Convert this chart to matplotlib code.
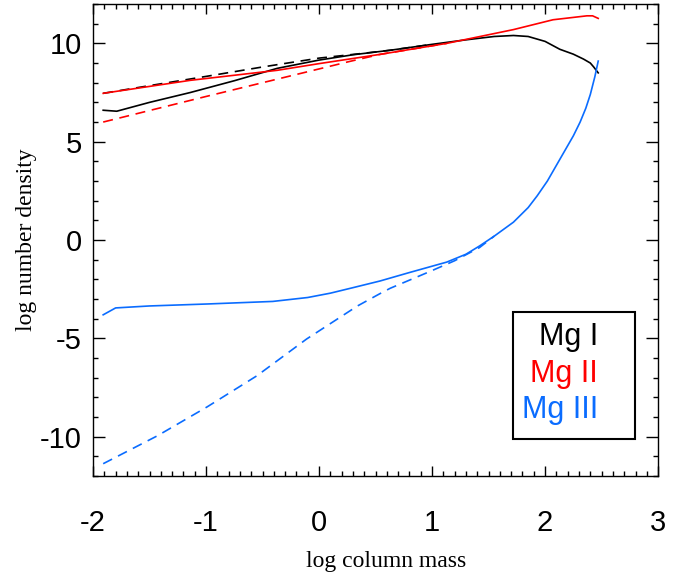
import matplotlib
matplotlib.use("Agg")
import matplotlib.pyplot as plt
from matplotlib.ticker import MultipleLocator
from matplotlib.patches import Rectangle

plt.rcParams['axes.unicode_minus'] = False

# Mg I (solid = non-LTE, dashed = LTE)
mg1_x = [-1.91, -1.79, -1.5, -1.14, -0.75, -0.37, 0.0, 0.3, 0.63, 1.0, 1.3, 1.55,
         1.72, 1.85, 2.0, 2.13, 2.25, 2.34, 2.40, 2.43, 2.47]
mg1_y = [6.6, 6.55, 7.0, 7.5, 8.1, 8.73, 9.15, 9.42, 9.65, 9.95, 10.18, 10.35,
         10.4, 10.35, 10.1, 9.7, 9.45, 9.2, 9.0, 8.8, 8.5]
mg1_lte_x = [-1.91, -1.5, -1.0, -0.5, 0.0, 0.4, 0.63, 1.0]
mg1_lte_y = [7.46, 7.85, 8.32, 8.8, 9.25, 9.5, 9.65, 9.95]

# Mg II
mg2_x = [-1.91, -1.14, -0.37, 0.0, 0.54, 1.13, 1.72, 2.07, 2.37, 2.42, 2.47]
mg2_y = [7.46, 8.12, 8.63, 8.97, 9.44, 10.0, 10.7, 11.2, 11.4, 11.4, 11.27]
mg2_lte_x = [-1.91, -1.0, 0.0, 0.27, 0.54, 1.13]
mg2_lte_y = [6.0, 7.3, 8.7, 9.08, 9.44, 10.0]

# Mg III
mg3_x = [-1.91, -1.80, -1.5, -0.99, -0.41, -0.1, 0.1, 0.3, 0.54, 0.8, 1.13, 1.3, 1.42,
         1.55, 1.72, 1.85, 1.93, 2.02, 2.10, 2.16, 2.25, 2.31, 2.36, 2.40, 2.44, 2.47]
mg3_y = [-3.8, -3.45, -3.35, -3.25, -3.12, -2.92, -2.7, -2.42, -2.08, -1.65, -1.12,
         -0.72, -0.3, 0.2, 0.91, 1.65, 2.25, 3.0, 3.8, 4.4, 5.3, 6.0, 6.7, 7.4, 8.3, 9.1]
mg3_lte_x = [-1.91, -1.43, -0.99, -0.55, -0.11, 0.34, 0.54, 0.63, 0.98, 1.2, 1.42, 1.55]
mg3_lte_y = [-11.37, -9.95, -8.48, -6.9, -5.03, -3.35, -2.72, -2.45, -1.6, -1.05, -0.38, 0.2]

labels = ['Mg I', 'Mg II', 'Mg III']
colors = ['black', '#ff0000', '#0a6cff']

fig = plt.figure(figsize=(6.9, 5.75), dpi=100)
ax = fig.add_axes([0.1348, 0.172, 0.819, 0.821])

lw = 1.2
dash = (0, (6, 4))
ax.plot(mg1_lte_x, mg1_lte_y, color=colors[0], lw=lw, linestyle=dash)
ax.plot(mg2_lte_x, mg2_lte_y, color=colors[1], lw=lw, linestyle=dash)
ax.plot(mg3_lte_x, mg3_lte_y, color=colors[2], lw=lw, linestyle=dash)
ax.plot(mg1_x, mg1_y, color=colors[0], lw=lw)
ax.plot(mg2_x, mg2_y, color=colors[1], lw=lw)
ax.plot(mg3_x, mg3_y, color=colors[2], lw=lw)

ax.set_xlim(-2, 3)
ax.set_ylim(-12, 12)
ax.xaxis.set_major_locator(MultipleLocator(1))
ax.xaxis.set_minor_locator(MultipleLocator(0.1))
ax.yaxis.set_major_locator(MultipleLocator(5))
ax.yaxis.set_minor_locator(MultipleLocator(1))
ax.tick_params(which='both', direction='in', top=True, right=True, width=1)
ax.tick_params(axis='x', which='major', length=7.2, pad=24)
ax.tick_params(axis='x', which='minor', length=3.6)
ax.tick_params(axis='y', which='major', length=8.6, pad=8)
ax.tick_params(axis='y', which='minor', length=3.6)
for lab in ax.get_xticklabels() + ax.get_yticklabels():
    lab.set_family('Liberation Sans')
    lab.set_fontsize(21)
for sp in ax.spines.values():
    sp.set_linewidth(1)

ax.set_xlabel('log column mass', family='Liberation Serif', fontsize=17, labelpad=10)
ax.xaxis.label.set_x(0.519)
ax.set_ylabel('log number density', family='Liberation Serif', fontsize=17, labelpad=2)

# legend box drawn as text, IDL style
ax.add_patch(Rectangle((0.743, 0.078), 0.216, 0.269, transform=ax.transAxes,
                       fill=False, edgecolor='black', lw=1.5))
for i, (lab, c) in enumerate(zip(labels, colors)):
    ax.text(0.894, 0.294 - i * 0.077, lab, color=c, transform=ax.transAxes,
            ha='right', va='center', family='Liberation Sans', fontsize=22)

plt.savefig('out.png')
